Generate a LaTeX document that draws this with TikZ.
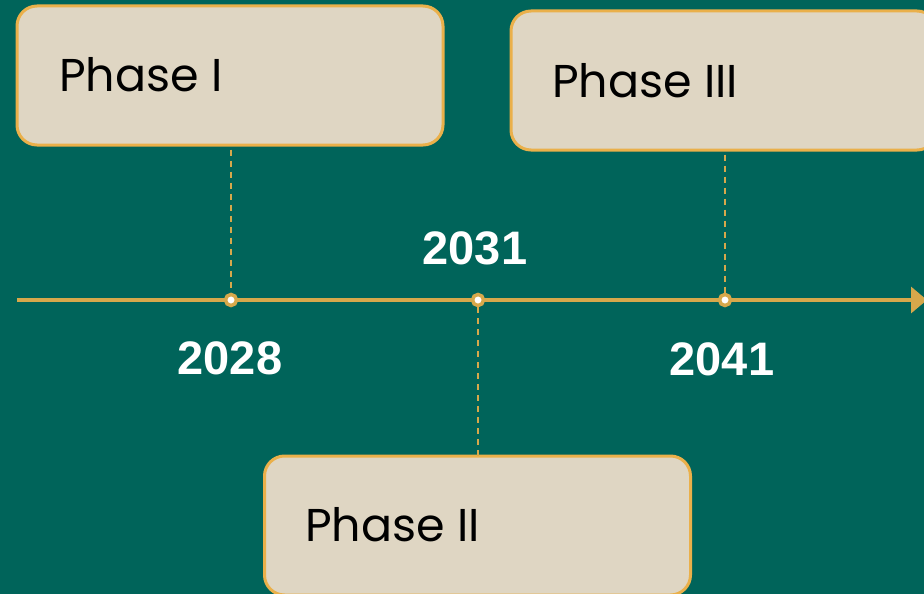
\documentclass[tikz,border=0pt]{standalone}
\usepackage{fontspec}
\setmainfont{Poppins}
\newfontfamily\yearfont{Liberation Sans}
\usetikzlibrary{arrows.meta}
\definecolor{bg}{RGB}{0,100,90}
\definecolor{boxfill}{RGB}{223,214,195}
\definecolor{boxline}{RGB}{234,176,74}
\definecolor{tl}{RGB}{214,168,75}
\tikzset{
  phasebox/.style={draw=boxline, line width=3pt, fill=boxfill, rounded corners=20pt,
    minimum width=426pt, minimum height=139pt, inner sep=0pt},
  phasetext/.style={anchor=base west, inner sep=0pt, font=\fontsize{46pt}{50pt}\selectfont, text=black},
  yeartext/.style={inner sep=0pt, text=white, font=\yearfont\bfseries\fontsize{47pt}{50pt}\selectfont},
  tdot/.style={circle, draw=tl, fill=white, line width=3.5pt, minimum size=11pt, inner sep=0pt},
  conn/.style={draw=tl, line width=1.5pt, dash pattern=on 6pt off 5pt}
}
\begin{document}
\begin{tikzpicture}[x=1pt,y=-1pt]
\useasboundingbox (0,0) rectangle (924,594);
\clip (0,0) rectangle (924,594);
\fill[bg] (0,0) rectangle (924,594);
% timeline
\coordinate (tstart) at (17,300);
\coordinate (tend) at (927,300);
\draw[tl, line width=3.5pt, -{Triangle[length=16pt,width=26pt]}] (tstart) -- (tend);
% boxes
\node[phasebox] (box1) at (230,75.5) {};
\node[phasebox] (box3) at (724,80.5) {};
\node[phasebox] (box2) at (477.5,525.5) {};
\node[phasetext] (t1) at (59,92) {Phase I};
\node[phasetext] (t3) at (552,97) {Phase III};
\node[phasetext] (t2) at (305,541) {Phase II};
% dots
\node[tdot] (d1) at (231,300) {};
\node[tdot] (d2) at (478,300) {};
\node[tdot] (d3) at (725,300) {};
% connectors
\draw[conn] (d1 |- box1.south) ++(0,3) -- (d1.north);
\draw[conn] (d3 |- box3.south) ++(0,3) -- (d3.north);
\draw[conn] (d2.south) -- ([yshift=-4pt]d2 |- box2.north);
% years
\node[yeartext] (y1) at (230,358) {2028};
\node[yeartext] (y2) at (475,248) {2031};
\node[yeartext] (y3) at (722,359) {2041};
\end{tikzpicture}
\end{document}
